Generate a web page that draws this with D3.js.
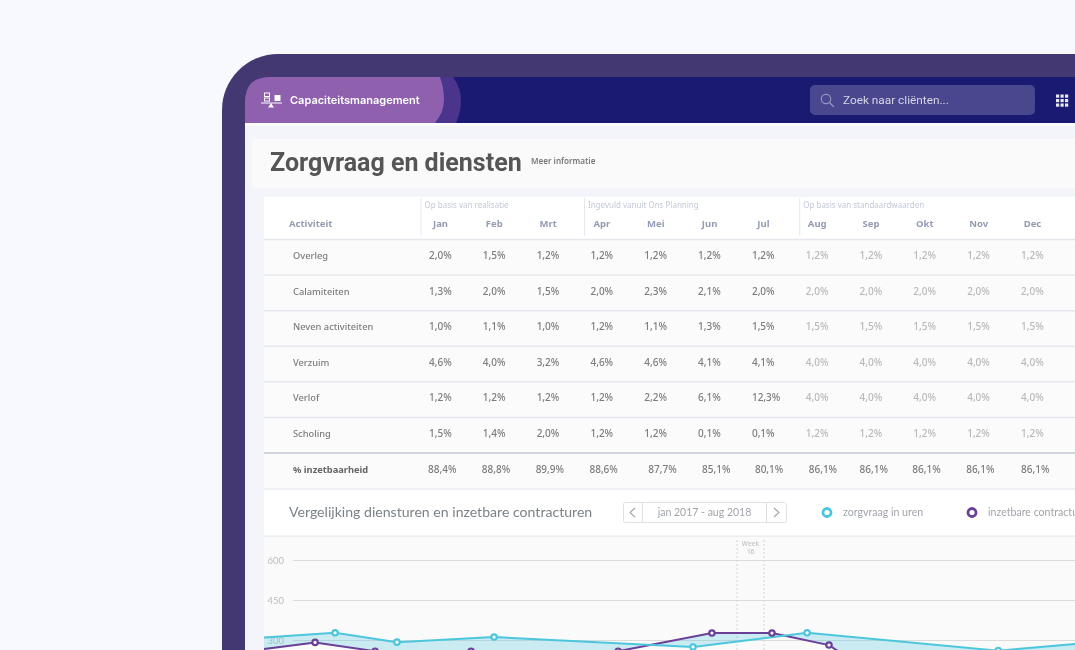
<!DOCTYPE html>
<html>
<head>
<meta charset="utf-8">
<script src="https://d3js.org/d3.v7.min.js"></script>
<style>
  html, body { margin: 0; padding: 0; background: #f8f9fe; overflow: hidden; }
  svg { display: block; filter: blur(0.5px); }
  text { font-family: "Noto Sans", sans-serif; }
</style>
</head>
<body>
<div id="chart"></div>
<script>
// table data
var months = ["Jan", "Feb", "Mrt", "Apr", "Mei", "Jun", "Jul", "Aug", "Sep", "Okt", "Nov", "Dec"];
var activities = ["Overleg", "Calamiteiten", "Neven activiteiten", "Verzuim", "Verlof", "Scholing"];
var overleg = ["2,0%", "1,5%", "1,2%", "1,2%", "1,2%", "1,2%", "1,2%", "1,2%", "1,2%", "1,2%", "1,2%", "1,2%"];
var calamiteiten = ["1,3%", "2,0%", "1,5%", "2,0%", "2,3%", "2,1%", "2,0%", "2,0%", "2,0%", "2,0%", "2,0%", "2,0%"];
var neven = ["1,0%", "1,1%", "1,0%", "1,2%", "1,1%", "1,3%", "1,5%", "1,5%", "1,5%", "1,5%", "1,5%", "1,5%"];
var verzuim = ["4,6%", "4,0%", "3,2%", "4,6%", "4,6%", "4,1%", "4,1%", "4,0%", "4,0%", "4,0%", "4,0%", "4,0%"];
var verlof = ["1,2%", "1,2%", "1,2%", "1,2%", "2,2%", "6,1%", "12,3%", "4,0%", "4,0%", "4,0%", "4,0%", "4,0%"];
var scholing = ["1,5%", "1,4%", "2,0%", "1,2%", "1,2%", "0,1%", "0,1%", "1,2%", "1,2%", "1,2%", "1,2%", "1,2%"];
var inzetbaarheid = ["88,4%", "88,8%", "89,9%", "88,6%", "87,7%", "85,1%", "80,1%", "86,1%", "86,1%", "86,1%", "86,1%", "86,1%"];
var groupLabels = ["Op basis van realisatie", "Ingevuld vanuit Ons Planning", "Op basis van standaardwaarden"];
var groupFirstMonth = ["Jan", "Apr", "Aug"];

// chart data, week
var zorgWeeks = [-2, 0.63, 2.92, 6.51, 13.87, 18.09, 25.16, 28];
var zorgUren = [309, 327, 292, 311, 274, 327, 260, 285];
var contractWeeks = [-2, -0.11, 2.11, 5.66, 11.1, 14.57, 16.79, 18.9, 20, 28];
var contractUren = [266, 291, 258, 258, 258, 326, 326, 281, 206, 206];
var yTicks = [300, 450, 600];
var selectedWeek = 16;

var svg = d3.select("#chart").append("svg")
  .attr("width", 1075)
  .attr("height", 650);

// device frame
svg.append("rect").attr("x", 222).attr("y", 54).attr("width", 950).attr("height", 700).attr("rx", 56).attr("fill", "#443872");

// page area
svg.append("rect").attr("x", 245).attr("y", 123).attr("width", 830).attr("height", 527).attr("fill", "#f4f5fa");
svg.append("rect").attr("x", 245).attr("y", 123).attr("width", 830).attr("height", 3).attr("fill", "#fcfcfe");
svg.append("rect").attr("x", 252).attr("y", 139).attr("width", 823).attr("height", 49).attr("fill", "#fafafb");

// top bar
svg.append("path").attr("d", "M245 123V102Q245 77 270 77H1075V123Z").attr("fill", "#1a1a72");
svg.append("path").attr("d", "M245 123V102Q245 77 270 77H453Q461 88 461 100Q461 112 456 123Z").attr("fill", "#4b348c");
svg.append("path").attr("d", "M245 123V102Q245 77 270 77H440Q444 88 444 100Q444 112 435 123Z").attr("fill", "#8e60ae");

// balance icon
var icon = svg.append("g").attr("fill", "none").attr("stroke", "#fff").attr("stroke-width", 1);
icon.append("rect").attr("x", 264.5).attr("y", 93).attr("width", 5).attr("height", 3.5);
icon.append("rect").attr("x", 264.5).attr("y", 98).attr("width", 5).attr("height", 3);
icon.append("rect").attr("x", 275).attr("y", 95.5).attr("width", 5).attr("height", 5).attr("fill", "#fff");
icon.append("line").attr("x1", 261).attr("x2", 282).attr("y1", 103).attr("y2", 103);
svg.append("path").attr("d", "M271 103L274 107.5H268Z").attr("fill", "#fff");

svg.append("text").attr("x", 290).attr("y", 104).attr("font-size", 11).attr("font-weight", 600)
  .style("font-family", "Inter").attr("fill", "#fff").text("Capaciteitsmanagement");

// search box
svg.append("rect").attr("x", 810).attr("y", 85).attr("width", 225).attr("height", 30).attr("rx", 5).attr("fill", "#49478d");
svg.append("circle").attr("cx", 826).attr("cy", 99).attr("r", 4.7).attr("fill", "none").attr("stroke", "#9696c2").attr("stroke-width", 1.2);
svg.append("line").attr("x1", 829.5).attr("y1", 102.5).attr("x2", 834).attr("y2", 107).attr("stroke", "#9696c2").attr("stroke-width", 1.2);
svg.append("text").attr("x", 843).attr("y", 104).attr("font-size", 11.8).style("font-family", "Roboto").attr("fill", "#d5d5e6").text("Zoek naar cliënten...");

// apps grid
[0, 1, 2].forEach(function (r) {
  [0, 1, 2].forEach(function (c) {
    svg.append("rect").attr("x", 1056 + c * 4.5).attr("y", 94.5 + r * 4.5).attr("width", 3.2).attr("height", 3.2).attr("fill", "#e8e8f2");
  });
});

// page title
svg.append("text").attr("x", 270).attr("y", 171).attr("font-size", 25).attr("font-weight", 700).style("font-family", "Roboto")
  .attr("fill", "#555").text("Zorgvraag en diensten");
svg.append("text").attr("x", 531).attr("y", 164).attr("font-size", 8.1).attr("font-weight", 600)
  .attr("fill", "#777").text("Meer informatie");

// table
var rowValues = [overleg, calamiteiten, neven, verzuim, verlof, scholing];
var xMonth = d3.scalePoint().domain(months).range([440, 1032]);
var rowY = d3.scalePoint().domain(activities.concat(["% inzetbaarheid"])).range([257.5, 471]);
var totalShift = [0, 0, 0, 0, 5, 5, 4, 4, 1, 0, 0, 1];

svg.append("rect").attr("x", 264).attr("y", 196).attr("width", 811).attr("height", 43).attr("fill", "#fff");
svg.append("rect").attr("x", 264).attr("y", 239).attr("width", 811).attr("height", 250).attr("fill", "#fbfbfc");
svg.append("line").attr("x1", 264).attr("x2", 1075).attr("y1", 196).attr("y2", 196).attr("stroke", "#eceef3");

svg.selectAll(".rowline").data(activities).enter().append("line")
  .attr("x1", 264).attr("x2", 1075)
  .attr("y1", d => rowY(d) - 18).attr("y2", d => rowY(d) - 18)
  .attr("stroke", "#e6e8ee").attr("stroke-width", 1.5);
svg.append("line").attr("x1", 264).attr("x2", 1075).attr("y1", 453).attr("y2", 453).attr("stroke", "#c3c8d6").attr("stroke-width", 1.5);
svg.append("line").attr("x1", 264).attr("x2", 1075).attr("y1", 489).attr("y2", 489).attr("stroke", "#eceef3").attr("stroke-width", 1.5);

svg.selectAll(".mhead").data(months).enter().append("text")
  .attr("x", d => xMonth(d) + 0.5).attr("y", 227)
  .attr("text-anchor", "middle").attr("font-size", 9.5).attr("font-weight", 700)
  .attr("fill", "#939cb2").text(d => d);
svg.append("text").attr("x", 289).attr("y", 227).attr("font-size", 9.5).attr("font-weight", 700)
  .attr("fill", "#939cb2").text("Activiteit");

groupLabels.forEach(function (label, i) {
  var gx = xMonth(groupFirstMonth[i]) - (i == 0 ? 19 : 17);
  svg.append("line").attr("x1", gx).attr("x2", gx).attr("y1", 198).attr("y2", 236).attr("stroke", "#e4e7ee");
  svg.append("text").attr("x", gx + 3.5).attr("y", 208).attr("font-size", 8).attr("fill", "#c3c8d6").text(label);
});

activities.forEach(function (name, i) {
  svg.append("text").attr("x", 293).attr("y", rowY(name) + 1.5).attr("font-size", 9.3).attr("font-weight", 500)
    .attr("fill", "#7c7c7c").text(name);
  svg.selectAll(".v" + i).data(rowValues[i]).enter().append("text")
    .attr("x", (d, j) => xMonth(months[j]) - 11)
    .attr("y", rowY(name) + 1.5)
    .attr("font-size", 10).attr("font-weight", 500)
    .attr("fill", (d, j) => j >= 7 ? "#b9b9b9" : "#7c7c7c")
    .text(d => d);
});
svg.append("text").attr("x", 293).attr("y", rowY("% inzetbaarheid") + 1.5).attr("font-size", 9.3).attr("font-weight", 700)
  .attr("fill", "#666").text("% inzetbaarheid");
svg.selectAll(".tot").data(inzetbaarheid).enter().append("text")
  .attr("x", (d, j) => xMonth(months[j]) - 12 + totalShift[j])
  .attr("y", rowY("% inzetbaarheid") + 1.5)
  .attr("font-size", 10).attr("font-weight", 500).attr("fill", "#7c7c7c")
  .text(d => d);

// chart panel header
svg.append("rect").attr("x", 264).attr("y", 490).attr("width", 811).attr("height", 46).attr("fill", "#fff");
svg.append("line").attr("x1", 264).attr("x2", 1075).attr("y1", 536).attr("y2", 536).attr("stroke", "#e6e8ee");
svg.append("rect").attr("x", 264).attr("y", 537).attr("width", 811).attr("height", 113).attr("fill", "#fafafa");

svg.append("text").attr("x", 289).attr("y", 517).attr("font-size", 14.1).style("font-family", "Lato")
  .attr("fill", "#7b8287").text("Vergelijking diensturen en inzetbare contracturen");

// date picker
svg.append("rect").attr("x", 623.5).attr("y", 502.5).attr("width", 163).attr("height", 20).attr("rx", 2).attr("fill", "#fff").attr("stroke", "#dfe1e6");
svg.append("line").attr("x1", 642.5).attr("x2", 642.5).attr("y1", 503).attr("y2", 522).attr("stroke", "#dfe1e6");
svg.append("line").attr("x1", 766.5).attr("x2", 766.5).attr("y1", 503).attr("y2", 522).attr("stroke", "#dfe1e6");
svg.append("path").attr("d", "M635 508L630 512.5L635 517").attr("fill", "none").attr("stroke", "#a0a4aa").attr("stroke-width", 1.1);
svg.append("path").attr("d", "M774 508L779 512.5L774 517").attr("fill", "none").attr("stroke", "#a0a4aa").attr("stroke-width", 1.1);
svg.append("text").attr("x", 704.5).attr("y", 516).attr("text-anchor", "middle").attr("font-size", 10.5).style("font-family", "Lato")
  .attr("fill", "#a0a4aa").text("jan 2017 - aug 2018");

// legend
svg.append("circle").attr("cx", 827).attr("cy", 512.5).attr("r", 4).attr("fill", "#fff").attr("stroke", "#4cc6dc").attr("stroke-width", 2.8);
svg.append("text").attr("x", 843).attr("y", 516).attr("font-size", 10.6).style("font-family", "Lato").attr("fill", "#a0a4aa").text("zorgvraag in uren");
svg.append("circle").attr("cx", 972).attr("cy", 512.5).attr("r", 4).attr("fill", "#fff").attr("stroke", "#6b3f98").attr("stroke-width", 2.8);
svg.append("text").attr("x", 988).attr("y", 516).attr("font-size", 10.6).style("font-family", "Lato").attr("fill", "#a0a4aa").text("inzetbare contracturen");

// line chart
var x = d3.scaleLinear().domain([-2, 28]).range([264, 1075]);
var y = d3.scaleLinear().domain([0, 600]).range([720, 560]);

var yAxis = svg.append("g")
  .attr("transform", "translate(293,0)")
  .call(d3.axisLeft(y).tickValues(yTicks).tickSize(-782).tickPadding(9));
yAxis.select(".domain").remove();
yAxis.selectAll("line").attr("stroke", "#dcdcdc").attr("stroke-width", 1.2);
yAxis.selectAll("text").attr("fill", "#bdbdbd").attr("font-size", 9.5).style("font-family", "Lato");

// selected week band
[selectedWeek - 0.5, selectedWeek + 0.5].forEach(function (w) {
  svg.append("line").attr("x1", x(w)).attr("x2", x(w)).attr("y1", 540).attr("y2", 650)
    .attr("stroke", "#d2d2d2").attr("stroke-dasharray", "2,2");
});
svg.append("text").attr("x", x(selectedWeek)).attr("y", 545.5).attr("text-anchor", "middle").attr("font-size", 6.5).attr("font-weight", 600)
  .attr("fill", "#c8c8c8").text("Week");
svg.append("text").attr("x", x(selectedWeek)).attr("y", 553.5).attr("text-anchor", "middle").attr("font-size", 6.5).attr("font-weight", 600)
  .attr("fill", "#c8c8c8").text(selectedWeek);

var zorgPts = zorgWeeks.map((w, i) => [x(w), y(zorgUren[i])]);
var contractPts = contractWeeks.map((w, i) => [x(w), y(contractUren[i])]);
var line = d3.line();

// fill between both lines
svg.append("path")
  .attr("d", line(zorgPts.concat(contractPts.slice().reverse())) + "Z")
  .attr("fill", "#4cc6dc").attr("fill-opacity", 0.28).attr("stroke", "none");

svg.append("path").attr("d", line(contractPts)).attr("fill", "none").attr("stroke", "#6b3f98").attr("stroke-width", 2);
svg.append("path").attr("d", line(zorgPts)).attr("fill", "none").attr("stroke", "#4cc6dc").attr("stroke-width", 2);

function drawDots(pts, color) {
  svg.selectAll(".dot" + color.slice(1)).data(pts.slice(1, -1)).enter().append("circle")
    .attr("cx", d => d[0]).attr("cy", d => d[1])
    .attr("r", 2.7).attr("fill", "#fff").attr("stroke", color).attr("stroke-width", 2.2);
}
drawDots(contractPts, "#6b3f98");
drawDots(zorgPts, "#4cc6dc");
</script>
</body>
</html>
